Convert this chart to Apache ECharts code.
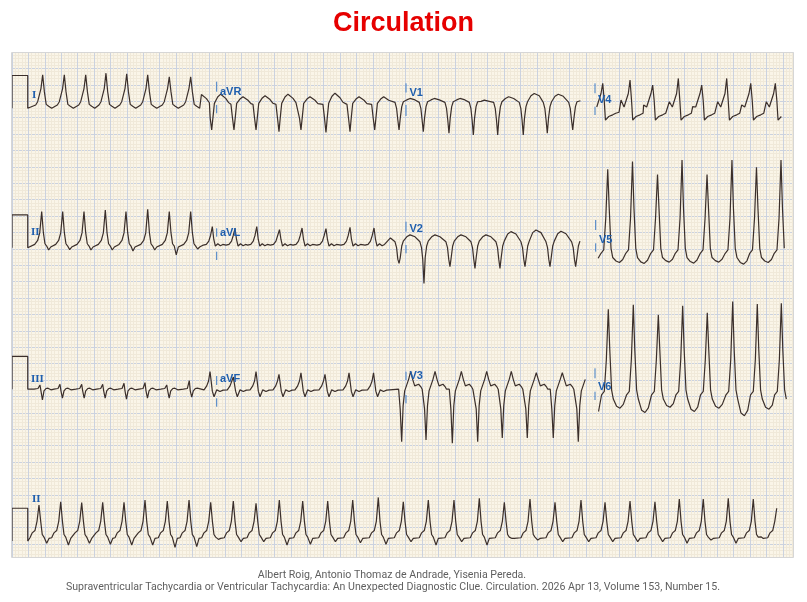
<!DOCTYPE html>
<html><head><meta charset="utf-8">
<script src="https://cdn.jsdelivr.net/npm/echarts@6/dist/echarts.min.js"></script>
<style>html,body{margin:0;padding:0;background:#fff}#c{width:807px;height:602px}</style>
</head><body><div id="c"></div>
<script>
// ---- DATA (time in seconds, amplitude in mV) ----
const calibT = [0, 0, 0.192, 0.192, 0.199];
const calibV = [0, 1, 1, 0, 0];

// Row 1: I, aVR, V1 | V4
const I_t = [0.374,0.638,0.899,1.146,1.399,1.655,1.918,2.179];
const I_a = [1.02,1.02,1.02,1.07,1.05,1.02,0.96,0.96];
const aVR_t = [2.2,2.435,2.707,2.976,3.256,3.524,3.829,4.122,4.423];
const aVR_a = [-0.66,-0.66,-0.66,-0.66,-0.71,-0.66,-0.74,-0.71,-0.66];
const aVR_b = [0.42,0.43,0.35,0.38,0.43,0.35,0.46,0.35,0.35];
const V1_t = [4.720,5.016,5.329,5.626,5.923,6.235,6.528,6.838];
const V1_a = [-0.66,-0.71,-0.76,-0.81,-0.81,-0.81,-0.76,-0.66];
const V1_b = [0.3,0.3,0.3,0.25,0.35,0.45,0.43,0.27];
const V4_t = [7.204,7.537,7.813,8.126,8.411,8.716,9.009,9.309];
const V4_a = [0.76,0.86,0.71,0.91,0.71,0.91,0.76,0.76];
const V4_b = [0.1,0.25,0.1,0.2,0.05,0.2,0.1,0.2];

// Row 2: II, aVL, V2 | V5
const II_t = [0.362,0.618,0.878,1.138,1.390,1.655,1.918,2.179];
const II_a = [1.10,1.10,1.10,1.15,1.10,1.17,1.10,1.10];
const II_b = [-0.07,-0.06,-0.07,-0.07,-0.10,-0.07,-0.22,-0.04];
const aVL_t = [2.443,2.720,2.985,3.262,3.537,3.829,4.122,4.415];
const aVL_a = [0.64,0.59,0.64,0.55,0.60,0.58,0.62,0.60];
const V2_t = [4.42,4.720,5.024,5.341,5.646,5.951,6.256,6.561,6.874];
const V2_a = [-0.5,-0.48,-1.09,-0.58,-0.63,-0.63,-0.58,-0.58,-0.58];
const V2_b = [0.35,0.39,0.39,0.39,0.39,0.49,0.54,0.50,0.35];
const V5_t = [6.965,7.265,7.567,7.872,8.171,8.476,8.780,9.079,9.378];
const V5_a = [2.4,2.39,2.63,2.23,2.67,2.23,2.67,2.45,2.67];
const V5_b = [-0.4,-0.45,-0.48,-0.44,-0.47,-0.44,-0.5,-0.45,-0.45];

// Row 3: III, aVF, V3 | V6
const III_t = [0.341,0.585,0.850,1.106,1.366,1.622,1.887,2.162];
const III_a = [0.13,0.15,0.15,0.15,0.18,0.20,0.13,0.26];
const III_b = [-0.33,-0.27,-0.27,-0.27,-0.30,-0.27,-0.27,-0.24];
const aVF_t = [2.415,2.699,2.976,3.256,3.524,3.817,4.110,4.409];
const aVF_a = [0.54,0.37,0.54,0.45,0.50,0.45,0.50,0.50];
const V3_t = [4.752,5.049,5.370,5.679,5.979,6.284,6.601,6.906];
const V3_a = [-1.6,-1.55,-1.65,-1.6,-1.49,-1.49,-1.49,-1.6];
const V3_b = [0.54,0.54,0.54,0.54,0.54,0.5,0.5,0.5];
const V6_t = [6.97,7.272,7.577,7.882,8.179,8.479,8.789,9.089,9.382];
const V6_a = [2.4,2.44,2.57,2.27,2.54,2.33,2.67,2.60,2.62];
const V6_b = [-0.85,-0.58,-0.71,-0.55,-0.68,-0.58,-0.81,-0.61,-0.6];

// Row 4: rhythm strip II
const R_t = [0.329,0.594,0.850,1.106,1.366,1.622,1.894,2.159,2.423,2.699,2.976,3.260,3.545,3.850,4.155,4.467,4.772,5.077,5.390,5.699,6.004,6.317,6.622,6.939,7.232,7.537,7.841,8.138,8.430,8.735,9.040,9.326];
const R_a = [1.10,1.20,1.17,1.18,1.18,1.25,1.22,1.25,1.18,1.22,1.15,1.25,1.22,1.22,1.25,1.33,1.20,1.25,1.25,1.30,1.18,1.28,1.18,1.25,1.18,1.22,1.20,1.28,1.28,1.30,1.28,1.00];
const R_b = [-0.07,-0.12,-0.07,-0.10,-0.12,-0.12,-0.19,-0.17,0.05,-0.02,-0.02,-0.12,-0.10,-0.02,-0.05,-0.10,-0.02,-0.12,-0.02,-0.12,0.08,0.03,-0.02,-0.02,-0.02,-0.02,-0.02,-0.07,0.03,-0.07,0.13,0];

// beat shapes: [dt s, mV, scale key]
const tplI   = [[-0.085,0.1],[-0.061,0.2],[-0.043,0.25],[-0.021,0.6],[0,1,'A'],[0.021,0.5],[0.043,0.12],[0.073,0.06],[0.110,0.0],[0.134,-0.01]];
const tplII  = [[-0.085,0.1],[-0.049,0.22],[-0.024,0.45],[0,1,'A'],[0.021,0.45],[0.040,0.12],[0.061,0.05],[0.085,1,'B'],[0.110,0.02],[0.134,0.0]];
const tplIII = [[-0.073,0.0],[-0.024,0.02],[-0.010,0.08],[0,1,'A'],[0.012,-0.05],[0.030,1,'B'],[0.049,-0.05],[0.073,0.02],[0.098,0.03],[0.134,-0.02]];
const tplAVR = [[-0.037,0.12],[-0.018,-0.3],[0,1,'A'],[0.015,-0.3],[0.033,0.15],[0.073,0.8,'B'],[0.110,1,'B'],[0.171,0.7,'B'],[0.207,0.4,'B']];
const tplAVL = [[-0.110,0.08],[-0.073,0.1],[-0.043,0.2],[-0.021,0.38],[0,1,'A'],[0.018,0.25],[0.037,0.05],[0.067,0.12],[0.098,0.06],[0.128,0.1]];
const tplAVF = [[-0.073,-0.02],[-0.040,0.1],[-0.018,0.25],[0,1,'A'],[0.028,-0.06],[0.049,-0.23],[0.082,-0.02],[0.122,-0.07],[0.159,-0.03]];
const tplV12 = [[-0.049,0.18],[-0.030,0.0],[-0.015,-0.35],[0,1,'A'],[0.015,-0.3],[0.033,0.05],[0.052,0.2],[0.094,0.85,'B'],[0.134,1,'B'],[0.195,0.85,'B']];
const tplV3  = [[-0.037,0.0],[-0.018,-0.6],[0,1,'A'],[0.018,-0.5],[0.037,-0.05],[0.061,0.0],[0.085,0.3],[0.110,1,'B'],[0.134,0.3],[0.159,0.1],[0.183,0.06],[0.207,0.15],[0.232,0.08],[0.250,0.0]];
const tplV4  = [[-0.134,-0.12],[-0.110,1,'B'],[-0.073,0.04],[-0.049,0.07],[-0.021,0.45],[0,1,'A'],[0.018,0.25],[0.033,-0.36],[0.073,-0.25],[0.122,-0.2],[0.159,-0.15]];
const tplV56 = [[-0.082,-0.17],[-0.049,-0.07],[-0.024,0.9],[0,1,'A'],[0.018,1.2],[0.040,-0.02],[0.061,-0.3],[0.101,0.9,'B'],[0.143,1,'B'],[0.183,0.8,'B']];
const tplR   = [[-0.110,0.1],[-0.082,0.25],[-0.049,0.32],[-0.024,0.6],[0,1,'A'],[0.021,0.6],[0.040,0.2],[0.061,0.12],[0.094,1,'B'],[0.122,0.08],[0.146,0.06]];

// ---- build ----
function beats(times, A, B, tpl, t0, t1) {
  const out = []; let last = -Infinity;
  times.forEach((tc, i) => {
    tpl.forEach(([dt, v, k]) => {
      const t = tc + dt;
      if (t < t0 || t > t1 || t <= last) return;
      const val = k === 'A' ? v * A[i] : (k === 'B' ? v * B[i] : v);
      out.push([t, val]); last = t;
    });
  });
  return out;
}
const calib = calibT.map((t, i) => [t, calibV[i]]);
const MM_PER_S = 25, MM_PER_MV = 10;
function toXY(pts, base) { return pts.map(([t, v]) => [t * MM_PER_S, base - v * MM_PER_MV]); }

const rows = [
  { base: 17.16, a: [].concat(calib, beats(I_t, I_a, I_a, tplI, 0.2, 2.293), beats(aVR_t, aVR_a, aVR_b, tplAVR, 2.293, 4.61), beats(V1_t, V1_a, V1_b, tplV12, 4.61, 6.948)),
    b: beats(V4_t, V4_a, V4_b, tplV4, 7.122, 9.387) },
  { base: 59.66, a: [].concat(calib, beats(II_t, II_a, II_b, tplII, 0.2, 2.293), beats(aVL_t, aVL_a, aVL_a, tplAVL, 2.293, 4.598), beats(V2_t, V2_a, V2_b, tplV12, 4.598, 6.967)),
    b: beats(V5_t, V5_a, V5_b, tplV56, 7.13, 9.42) },
  { base: 102.8, a: [].concat(calib, beats(III_t, III_a, III_b, tplIII, 0.2, 2.293), beats(aVF_t, aVF_a, aVF_a, tplAVF, 2.293, 4.695), beats(V3_t, V3_a, V3_b, tplV3, 4.695, 7.008)),
    b: beats(V6_t, V6_a, V6_b, tplV56, 7.15, 9.445) },
  { base: 149.1, a: [].concat(calib, beats(R_t, R_a, R_b, tplR, 0.2, 9.326)), b: [] }
];

const lineStyle = { color: '#3b2f2b', width: 1.2 };
const series = [];
rows.forEach(r => {
  [r.a, r.b].forEach(seg => {
    if (!seg.length) return;
    series.push({ type: 'line', data: toXY(seg, r.base), showSymbol: false, symbol: 'none',
      lineStyle, clip: false, animation: false, silent: true });
  });
});

// lead labels and separators (annotation layout)
const labels = [
  ['I', 32, 95.5, 1], ['aVR', 220, 91.5, 0], ['V1', 409.5, 93, 0], ['V4', 598, 100, 0],
  ['II', 31, 232.5, 1], ['aVL', 220, 232.5, 0], ['V2', 409.5, 228.5, 0], ['V5', 599, 239.5, 0],
  ['III', 31, 379, 1], ['aVF', 220, 379, 0], ['V3', 409.5, 376, 0], ['V6', 598, 387, 0],
  ['II', 32, 499, 1]
];
const marks = [
  [216.7, 81.7, 91.7], [216.7, 105, 113.3], [406, 83.3, 92.5], [406, 105, 116], [595, 83.3, 93.3], [595, 106.7, 115],
  [216.7, 228.3, 236.7], [216.7, 251.7, 260], [406, 221.7, 231.7], [406, 245, 253.3], [595.7, 220, 230], [595.7, 243.3, 251.7],
  [216.7, 376, 385], [216.7, 398.3, 406.7], [406, 371.7, 380], [406, 395, 403.3], [595, 368.3, 378.3], [595, 391.7, 400]
];
const graphic = [
  { type: 'rect', z: 100, shape: { x: 793.5, y: 40, width: 20, height: 530 }, style: { fill: '#fff' } },
  { type: 'rect', z: 100, shape: { x: 0, y: 557.5, width: 807, height: 8 }, style: { fill: '#fff' } },
  { type: 'rect', z: 101, shape: { x: 11.5, y: 52.5, width: 782, height: 505 }, style: { fill: 'none', stroke: '#d6d6d6', lineWidth: 1 } }
];
labels.forEach(([t, x, y, serif]) => graphic.push({ type: 'text', z: 110, x, y, style: {
  text: t, fill: '#1f5fae', font: serif ? 'bold 11px "Liberation Serif"' : 'bold 11px "Liberation Sans"',
  textVerticalAlign: 'middle', textAlign: 'left' } }));
marks.forEach(([x, y1, y2]) => graphic.push({ type: 'line', z: 110, shape: { x1: x, y1, x2: x, y2 },
  style: { stroke: '#3f7cc4', lineWidth: 1 } }));
graphic.push({ type: 'text', z: 110, x: 392, y: 575, style: { text: 'Albert Roig, Antonio Thomaz de Andrade, Yisenia Pereda.',
  fill: '#5f5f5f', font: '10.6px Roboto', textAlign: 'center', textVerticalAlign: 'middle' } });
graphic.push({ type: 'text', z: 110, x: 393, y: 587, style: { text: 'Supraventricular Tachycardia or Ventricular Tachycardia: An Unexpected Diagnostic Clue. Circulation. 2026 Apr 13, Volume 153, Number 15.',
  fill: '#5f5f5f', font: '10.6px Roboto', textAlign: 'center', textVerticalAlign: 'middle' } });

const axisCommon = {
  type: 'value', min: 0, interval: 5,
  axisLine: { show: false }, axisTick: { show: false }, axisLabel: { show: false },
  splitLine: { show: true, lineStyle: { color: '#cbd2df', width: 1 } },
  minorTick: { show: false, splitNumber: 5 },
  minorSplitLine: { show: true, lineStyle: { color: '#f0e9d9', width: 1 } }
};

const chart = echarts.init(document.getElementById('c'), null, { renderer: 'canvas' });
chart.setOption({
  animation: false,
  backgroundColor: '#ffffff',
  title: { text: 'Circulation', left: 'center', top: 5,
    textStyle: { color: '#e60000', fontSize: 27, fontWeight: 'bold', fontFamily: 'Liberation Sans' } },
  grid: { left: 12, top: 52, width: 787.2, height: 508.4, show: true, backgroundColor: '#faf5e8', borderWidth: 0 },
  xAxis: Object.assign({}, axisCommon, { max: 240 }),
  yAxis: Object.assign({}, axisCommon, { max: 155, inverse: true }),
  series,
  graphic
});
</script></body></html>
